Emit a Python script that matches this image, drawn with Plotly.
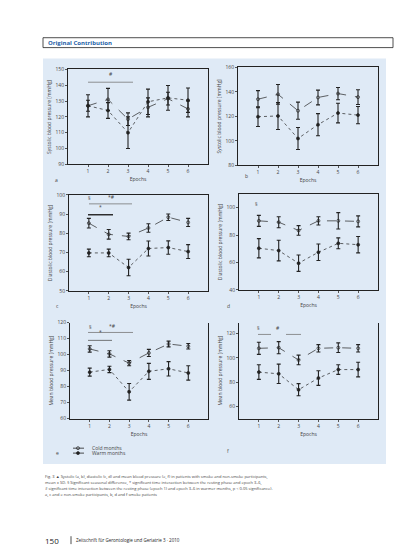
import plotly.graph_objects as go

W, H = 413, 550

epochs = [1, 2, 3, 4, 5, 6]

# panel a: systolic, non-smoke
sys_ns_cold = [127, 131, 118.5, 126, 131.5, 125]
sys_ns_cold_sd = [3.5, 7, 4, 6, 4, 5]
sys_ns_warm = [127, 124, 110, 129.5, 132, 130.5]
sys_ns_warm_sd = [7, 5, 10, 8, 7.8, 7.7]
# panel b: systolic, smoke
sys_s_cold = [134, 138, 124.6, 135.4, 138.6, 135.7]
sys_s_cold_sd = [7, 8, 7, 6, 5, 6]
sys_s_warm = [119.7, 120.3, 101.9, 113.2, 122.7, 121]
sys_s_warm_sd = [8, 11, 9, 9, 8, 7]
# panel c: diastolic, non-smoke
dia_ns_cold = [85.3, 79.5, 78.4, 82.8, 88.4, 85.7]
dia_ns_cold_sd = [2.5, 2.5, 1.7, 2.2, 1.7, 2.1]
dia_ns_warm = [69.8, 69.8, 62.2, 72.1, 72.6, 70.5]
dia_ns_warm_sd = [2, 2, 4.3, 3.9, 3.5, 3.6]
# panel d: diastolic, smoke
dia_s_cold = [90.4, 89.4, 83.4, 90.4, 90.4, 90]
dia_s_cold_sd = [4, 4, 3.5, 3, 6, 4]
dia_s_warm = [70.4, 68.7, 59.5, 67.5, 74, 73]
dia_s_warm_sd = [7, 7.5, 6, 6, 4, 6]
# panel e: mean, non-smoke
map_ns_cold = [103.5, 100.4, 94.6, 101, 106.6, 105.2]
map_ns_cold_sd = [2, 2, 1.6, 2.2, 1.8, 1.7]
map_ns_warm = [89, 90.7, 76.7, 89.5, 91.1, 88.5]
map_ns_warm_sd = [2.5, 2, 5.2, 5, 4.5, 4.5]
# panel f: mean, smoke
map_s_cold = [107.8, 108.3, 98.2, 107.8, 108.3, 107.8]
map_s_cold_sd = [5, 5, 4, 3, 4, 3]
map_s_warm = [88.2, 86.8, 73.7, 83.3, 90.3, 90.3]
map_s_warm_sd = [6, 8, 5, 6, 4, 6]

panels = [
    ("a", sys_ns_cold, sys_ns_cold_sd, sys_ns_warm, sys_ns_warm_sd,
     "Systolic blood pressure [mmHg]", [90, 150], [90, 100, 110, 120, 130, 140, 150]),
    ("b", sys_s_cold, sys_s_cold_sd, sys_s_warm, sys_s_warm_sd,
     "Systolic blood pressure [mmHg]", [80, 160], [80, 100, 120, 140, 160]),
    ("c", dia_ns_cold, dia_ns_cold_sd, dia_ns_warm, dia_ns_warm_sd,
     "Diastolic blood pressure [mmHg]", [50, 100], [50, 60, 70, 80, 90, 100]),
    ("d", dia_s_cold, dia_s_cold_sd, dia_s_warm, dia_s_warm_sd,
     "Diastolic blood pressure [mmHg]", [40, 110], [40, 60, 80, 100]),
    ("e", map_ns_cold, map_ns_cold_sd, map_ns_warm, map_ns_warm_sd,
     "Mean blood pressure [mmHg]", [60, 120], [60, 70, 80, 90, 100, 110, 120]),
    ("f", map_s_cold, map_s_cold_sd, map_s_warm, map_s_warm_sd,
     "Mean blood pressure [mmHg]", [50, 129], [60, 80, 100, 120]),
]

# plot boxes in page pixels: (left, right, top, bottom)
boxes = [
    (60, 200, 59, 155), (230, 370, 57, 156),
    (61, 200, 186, 283), (231, 370, 185, 282),
    (62, 200, 315, 412), (231, 370, 315, 412),
]

FONT = "Open Sans"
INK = "#444444"


def px(x):
    return x / W


def py(y):
    return 1 - y / H


fig = go.Figure()
layout = {}
for i, ((lab, cold, cold_sd, warm, warm_sd, ytitle, yr, yt), (l, r, t, b)) in enumerate(zip(panels, boxes)):
    n = "" if i == 0 else str(i + 1)
    xa, ya = "x" + n, "y" + n
    for vals, sd, sym, dash, name in [
        (cold, cold_sd, "circle-open", "dash", "Cold months"),
        (warm, warm_sd, "circle", "dot", "Warm months"),
    ]:
        fig.add_trace(go.Scatter(
            x=epochs, y=vals, xaxis=xa, yaxis=ya, name=name, showlegend=False,
            mode="lines+markers",
            line=dict(color="#222222", width=0.7, dash=dash),
            marker=dict(symbol=sym, size=3, color="#222222", line=dict(width=0.7, color="#222222")),
            error_y=dict(type="data", array=sd, color="#222222", thickness=1.1, width=2),
        ))
    mirror_x = i < 4
    layout["xaxis" + n] = dict(
        domain=[px(l), px(r)], anchor=ya, range=[0, 7], tickvals=epochs,
        showline=True, linecolor="#222222", linewidth=1, mirror=mirror_x,
        ticks="outside", ticklen=2, tickcolor="#555555", showgrid=False, zeroline=False,
        tickfont=dict(size=5, color=INK, family=FONT),
        title=dict(text="Epochs", font=dict(size=5, color=INK, family=FONT), standoff=4),
    )
    layout["yaxis" + n] = dict(
        domain=[py(b), py(t)], anchor=xa, range=yr, tickvals=yt,
        showline=True, linecolor="#222222", linewidth=1, mirror=True,
        ticks="outside", ticklen=2, tickcolor="#555555", showgrid=False, zeroline=False,
        tickfont=dict(size=5, color=INK, family=FONT),
        title=dict(text=ytitle, font=dict(size=5, color=INK, family=FONT), standoff=3),
    )

shapes = [
    # blue figure panel
    dict(type="rect", xref="paper", yref="paper", x0=px(35), x1=px(378), y0=py(458), y1=py(48),
         fillcolor="#dfeaf6", line=dict(width=0), layer="below"),
    # header box
    dict(type="rect", xref="paper", yref="paper", x0=px(35), x1=px(385), y0=py(37), y1=py(27),
         fillcolor="white", line=dict(width=0.8, color="#222222")),
    # footer separator
    dict(type="line", xref="paper", yref="paper", x0=px(63), x1=px(63), y0=py(539), y1=py(531),
         line=dict(width=0.8, color="#222222")),
]

# significance brackets (page pixels)
brackets = [
    (80, 125, 72, "#777777"),
    (81, 124, 195, "#777777"), (80, 105, 206, "#222222"),
    (80, 125, 325, "#777777"), (80, 104, 333, "#555555"),
    (250, 263, 327, "#777777"), (278, 293, 327, "#777777"),
]
for x0, x1, y, c in brackets:
    shapes.append(dict(type="line", xref="paper", yref="paper", x0=px(x0), x1=px(x1),
                       y0=py(y), y1=py(y), line=dict(width=0.8 if c != "#222222" else 1.4, color=c)))

# legend line samples
for y in (442, 447):
    shapes.append(dict(type="line", xref="paper", yref="paper", x0=px(65), x1=px(76),
                       y0=py(y), y1=py(y), line=dict(width=0.8, color="#222222")))


def txt(x, y, s, size=5, color=INK, xanchor="left", bold=False):
    return dict(x=px(x), y=py(y), xref="paper", yref="paper", text=f"<b>{s}</b>" if bold else s,
                showarrow=False, xanchor=xanchor, yanchor="middle",
                font=dict(size=size, color=color, family=FONT))


annotations = [
    txt(38, 32, "Original Contribution", size=6, color="#1f5fa8", bold=True),
    txt(45, 171, "a"), txt(235, 167, "b"), txt(46, 298, "c"),
    txt(217, 298, "d"), txt(46, 447, "e"), txt(217, 445, "f"),
    txt(103, 64, "#", xanchor="center"),
    txt(81, 189, "§", xanchor="center"), txt(103, 188, "*#", xanchor="center"),
    txt(92, 198, "*", xanchor="center"),
    txt(82, 319, "§", xanchor="center"), txt(104, 318, "*#", xanchor="center"),
    txt(92, 325, "*", xanchor="center"),
    txt(250, 320, "§", xanchor="center"), txt(270, 320, "#", xanchor="center"),
    txt(249, 195, "§", xanchor="center"),
    txt(82, 442, "Cold months"), txt(82, 447, "Warm months"),
    txt(35, 471, "Fig. 3 ▲ Systolic (a, b), diastolic (c, d) and mean blood pressure (e, f) in patients with smoke and non-smoke participants,", size=4),
    txt(35, 477, "mean ± SD. § Significant seasonal difference, * significant time interaction between the resting phase and epoch 3–6,", size=4),
    txt(35, 483, "# significant time interaction between the resting phase (epoch 1) and epoch 3–6 in warmer months, p < 0.05 significance).", size=4),
    txt(35, 489, "a, c and e non-smoke participants, b, d and f smoke patients", size=4),
    txt(35, 535, "150", size=8, color="#222222"),
    txt(66, 535, "Zeitschrift für Gerontologie und Geriatrie 3 · 2010", size=4.5, color="#222222"),
]

fig.add_trace(go.Scatter(x=[px(70), px(70)], y=[py(442), py(447)], xaxis="x7", yaxis="y7",
                         mode="markers", showlegend=False, hoverinfo="skip",
                         marker=dict(symbol=["circle-open", "circle"], size=3, color="#222222",
                                     line=dict(width=0.7, color="#222222"))))
layout["xaxis7"] = dict(domain=[0, 1], range=[0, 1], visible=False, anchor="y7")
layout["yaxis7"] = dict(domain=[0, 1], range=[0, 1], visible=False, anchor="x7")

fig.update_layout(
    width=W, height=H, margin=dict(l=0, r=0, t=0, b=0),
    paper_bgcolor="white", plot_bgcolor="rgba(0,0,0,0)",
    shapes=shapes, annotations=annotations, **layout,
)
fig.write_html("out.html")
